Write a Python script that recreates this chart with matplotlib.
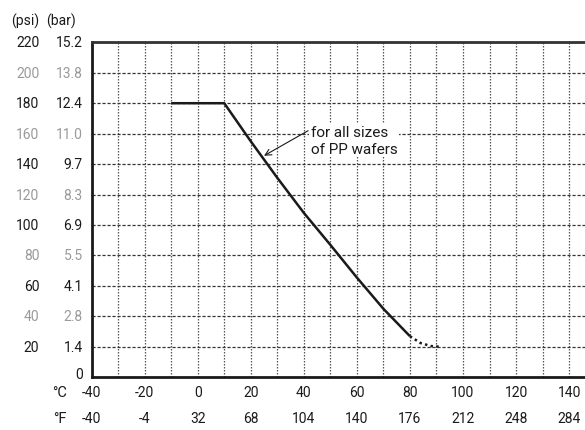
import numpy as np
import matplotlib.pyplot as plt

# pressure scale (psi / bar) and temperature scale (C / F)
psi_ticks = [220, 200, 180, 160, 140, 120, 100, 80, 60, 40, 20]
bar_ticks = ["15.2", "13.8", "12.4", "11.0", "9.7", "8.3", "6.9", "5.5", "4.1", "2.8", "1.4"]
degc_ticks = [-40, -20, 0, 20, 40, 60, 80, 100, 120, 140]
degf_ticks = [-40, -4, 32, 68, 104, 140, 176, 212, 248, 284]

# pressure rating curve for PP wafers
temp_solid = [-10, 10, 20, 30, 40, 50, 60, 70, 80]
psi_solid = [180, 180, 155, 131, 108, 87, 65.5, 45, 27]
temp_dotted = [80, 84, 88, 92]
psi_dotted = [27, 22.5, 20.5, 20]

plt.rcParams['font.family'] = ['Roboto', 'DejaVu Sans']
fig = plt.figure(figsize=(5.85, 4.31), dpi=100)
ax = fig.add_axes([91.6 / 585, 1 - 378.3 / 431, 1 - 91.6 / 585, 335 / 431])

ax.set_xlim(-40, 146)
ax.set_ylim(0, 220)

ax.set_xticks(np.arange(-40, 150, 10))
ax.set_yticks(np.arange(0, 221, 20))
ax.tick_params(length=0, labelbottom=False, labelleft=False)
ax.xaxis.grid(True, linestyle=(0, (1.2, 1.2)), color='#555555', linewidth=0.9)
ax.yaxis.grid(True, linestyle=(0, (2.5, 1.5)), color='#333333', linewidth=0.9)

for s in ['left', 'bottom']:
    ax.spines[s].set_linewidth(2)
    ax.spines[s].set_color('#1a1a1a')
ax.spines['top'].set_linewidth(2)
ax.spines['top'].set_color('#333333')
ax.spines['right'].set_visible(False)

ax.plot(temp_solid, psi_solid, color='#1a1a1a', linewidth=1.8, solid_capstyle='butt',
        solid_joinstyle='round')
ax.plot(temp_dotted, psi_dotted, color='#1a1a1a', linewidth=1.8, linestyle=(0, (1, 1.3)))

fs = 10
ytr = ax.get_yaxis_transform()
for i, (p, b) in enumerate(zip(psi_ticks, bar_ticks)):
    col = '#1a1a1a' if i % 2 == 0 else '#9a9a9a'
    ax.text(-0.106, p, str(p), transform=ytr, ha='right', va='center', fontsize=fs, color=col)
    ax.text(-0.018, p, b, transform=ytr, ha='right', va='center', fontsize=fs, color=col)
ax.text(-0.018, 2, "0", transform=ytr, ha='right', va='center', fontsize=fs, color='#1a1a1a')
ax.text(-0.106, 1.067, "(psi)", transform=ax.transAxes, ha='right', va='center', fontsize=fs, color='#1a1a1a')
ax.text(-0.092, 1.067, "(bar)", transform=ax.transAxes, ha='left', va='center', fontsize=fs, color='#1a1a1a')

xtr = ax.get_xaxis_transform()
for c, f in zip(degc_ticks, degf_ticks):
    ax.text(c, -0.045, str(c), transform=xtr, ha='center', va='center', fontsize=fs, color='#1a1a1a')
    ax.text(c, -0.122, str(f), transform=xtr, ha='center', va='center', fontsize=fs, color='#1a1a1a')
ax.text(-0.05, -0.045, "°C", transform=ax.transAxes, ha='right', va='center', fontsize=fs + 0.5, color='#1a1a1a')
ax.text(-0.05, -0.122, "°F", transform=ax.transAxes, ha='right', va='center', fontsize=fs + 0.5, color='#1a1a1a')

ax.annotate("for all sizes\nof PP wafers", xy=(25, 145.5), xytext=(42.6, 155.5),
            fontsize=11, color='#1a1a1a', ha='left', va='center', linespacing=1.25,
            bbox=dict(boxstyle='square,pad=0.1', fc='white', ec='none'),
            arrowprops=dict(arrowstyle='->', color='#1a1a1a', lw=0.8, shrinkA=0, shrinkB=0,
                            relpos=(-0.03, 0.82)))

fig.savefig('out.png', dpi=100)
